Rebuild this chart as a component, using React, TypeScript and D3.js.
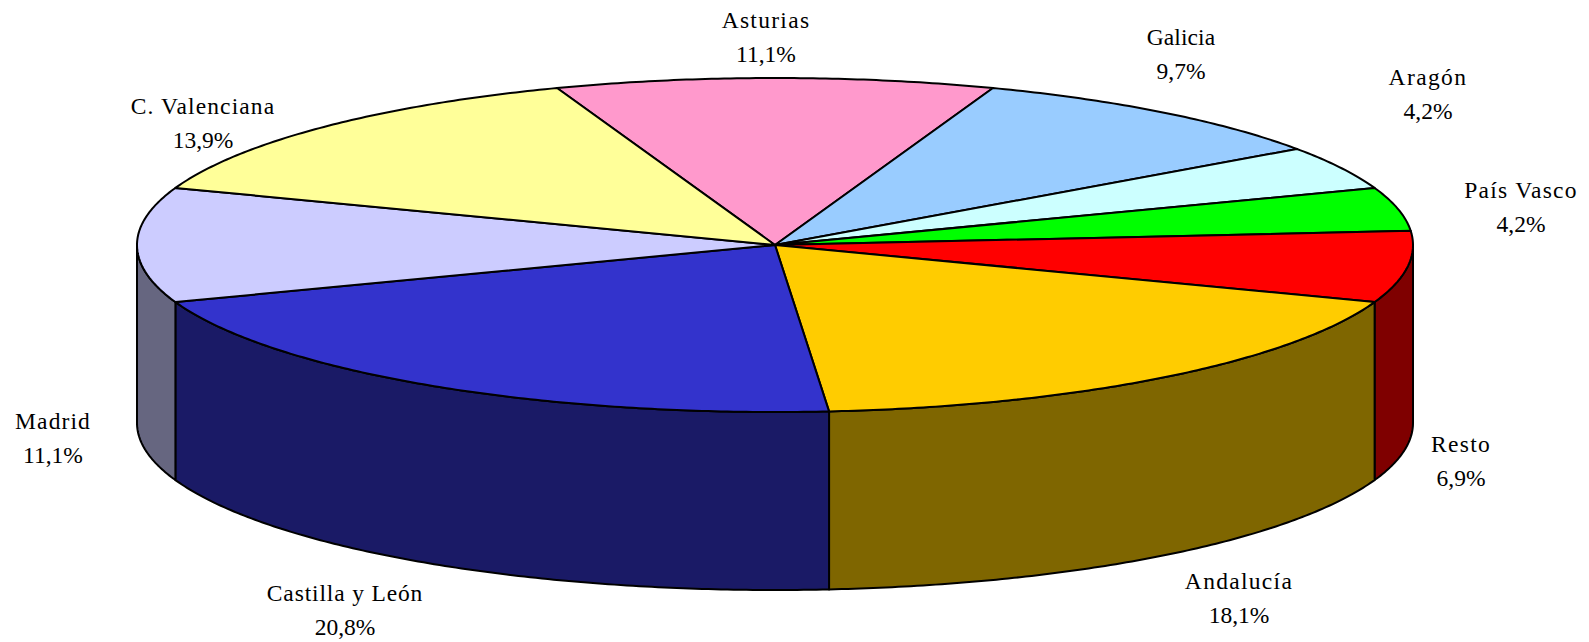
import React from "react";
import * as d3 from "d3";

const regions = ["Asturias", "Galicia", "Aragón", "País Vasco", "Resto", "Andalucía", "Castilla y León", "Madrid", "C. Valenciana"];
const shares = [11.1, 9.7, 4.2, 4.2, 6.9, 18.1, 20.8, 11.1, 13.9];
const shareLabels = ["11,1%", "9,7%", "4,2%", "4,2%", "6,9%", "18,1%", "20,8%", "11,1%", "13,9%"];
const topColors = ["#FF99CC", "#99CCFF", "#CCFFFF", "#00FF00", "#FF0000", "#FFCC00", "#3333CC", "#CCCCFF", "#FFFF99"];
const wallColors = ["#804D66", "#4D6680", "#668080", "#008000", "#7F0000", "#7F6600", "#1A1A66", "#666680", "#80804D"];

// label centres, [x, y of the name line]
const labelSpots = [
  [766, 20], [1181, 37], [1428, 77], [1521, 190], [1461, 444],
  [1239, 581], [345, 593], [53, 421], [203, 106],
];
// the names are not tracked evenly in the original
const nameTracking = [1.3, 0.1, 1.4, 1.3, 1.3, 1.3, 0.85, 1.1, 1.1];

const width = 1589;
const height = 642;
const cx = 775;
const cy = 245;
const rx = 638;
const ry = 167;
const depth = 178;
const lineGap = 34;

const startAngle = (-19.98 * Math.PI) / 180;

// angle runs clockwise from 12 o'clock, squashed onto the ellipse
const px = (a: number) => cx + rx * Math.sin(a);
const py = (a: number, drop = 0) => cy - ry * Math.cos(a) + drop;

const line = d3.line<[number, number]>();

const sample = (a0: number, a1: number) => {
  const n = Math.max(2, Math.ceil(Math.abs(a1 - a0) / 0.01));
  const t = d3.scaleLinear().domain([0, n]).range([a0, a1]);
  return d3.range(n + 1).map((i) => t(i));
};

const topPath = (a0: number, a1: number) => {
  const rim = sample(a0, a1).map((a) => [px(a), py(a)] as [number, number]);
  return line([[cx, cy], ...rim]) + "Z";
};

const wallPath = (a0: number, a1: number) => {
  const angles = sample(a0, a1);
  const upper = angles.map((a) => [px(a), py(a)] as [number, number]);
  const lower = angles.slice().reverse().map((a) => [px(a), py(a, depth)] as [number, number]);
  return line([...upper, ...lower]) + "Z";
};

export default function App() {
  const slices = d3
    .pie<number>()
    .sort(null)
    .startAngle(startAngle)
    .endAngle(startAngle + 2 * Math.PI)(shares);

  const wallFrom = Math.PI / 2;
  const wallTo = (3 * Math.PI) / 2;

  return (
    <svg
      width={width}
      height={height}
      style={{ position: "absolute", left: 0, top: 0, display: "block", background: "#fff" }}
    >
      <g stroke="#000" strokeWidth={2} strokeLinejoin="round">
        {slices.map((s, i) => {
          const a0 = Math.max(s.startAngle, wallFrom);
          const a1 = Math.min(s.endAngle, wallTo);
          if (a1 <= a0) return null;
          return <path key={regions[i]} d={wallPath(a0, a1)} fill={wallColors[i]} />;
        })}
        {slices.map((s, i) => (
          <path key={regions[i]} d={topPath(s.startAngle, s.endAngle)} fill={topColors[i]} />
        ))}
      </g>
      <g fontFamily="'Liberation Serif', serif" fontSize={23.5} textAnchor="middle" fill="#000">
        {regions.map((name, i) => (
          <g key={name}>
            <text x={labelSpots[i][0]} y={labelSpots[i][1]} dy="0.35em" letterSpacing={nameTracking[i]}>
              {name}
            </text>
            <text x={labelSpots[i][0]} y={labelSpots[i][1] + lineGap} dy="0.35em">
              {shareLabels[i]}
            </text>
          </g>
        ))}
      </g>
    </svg>
  );
}
